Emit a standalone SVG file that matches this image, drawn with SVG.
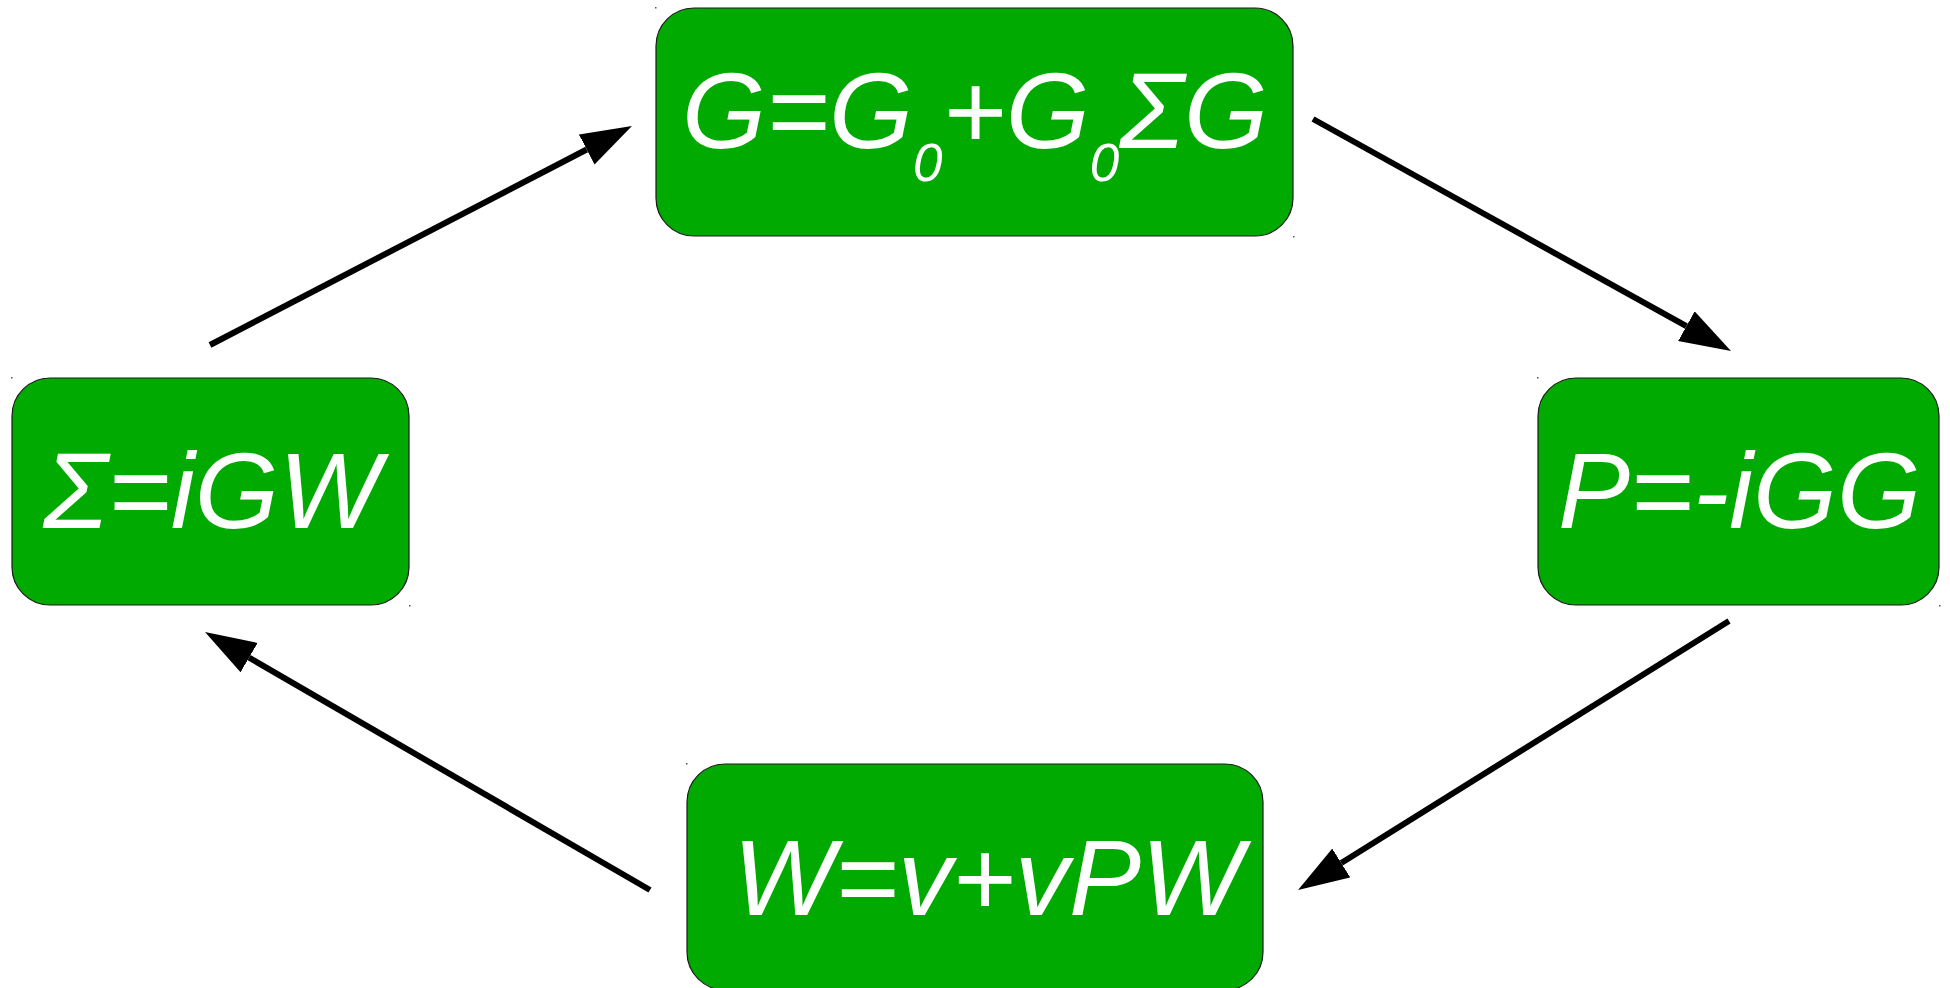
<svg xmlns="http://www.w3.org/2000/svg" width="1950" height="988" viewBox="0 0 1950 988">
<style>
.box{fill:#00aa00;stroke:#1a1a1a;stroke-width:1.2}
.lbl{font-family:"Liberation Sans",Arial,sans-serif;font-style:italic;font-size:108px;fill:#ffffff}
.sub{font-size:53px}
.conn{stroke:#000;stroke-width:6;fill:none}
.dot{fill:#555}
</style>
<defs>
<marker id="ah" markerUnits="userSpaceOnUse" markerWidth="60" markerHeight="40" refX="0" refY="17" orient="auto" viewBox="0 0 60 40">
<path d="M0,0 L51,17 L0,34 Z" fill="#000"/>
</marker>
</defs>
<rect width="1950" height="988" fill="#ffffff"/>
<g id="connectors">
<line class="conn" x1="210" y1="345" x2="586.7" y2="149.5" marker-end="url(#ah)"/>
<line class="conn" x1="1313" y1="119" x2="1686.4" y2="326.2" marker-end="url(#ah)"/>
<line class="conn" x1="1729" y1="621" x2="1341.3" y2="863" marker-end="url(#ah)"/>
<line class="conn" x1="650" y1="890" x2="249.1" y2="657.6" marker-end="url(#ah)"/>
</g>
<g id="node-G">
<rect class="box" x="656" y="8" width="637" height="228" rx="38" ry="38"/>
<rect class="dot" x="655" y="7" width="1.5" height="1.5"/>
<rect class="dot" x="1293" y="236" width="1.5" height="1.5"/>
<text class="lbl" x="682" y="148">G=G<tspan class="sub" dy="33">0</tspan><tspan dy="-33">+G</tspan><tspan class="sub" dy="33">0</tspan><tspan dy="-33">ΣG</tspan></text>
</g>
<g id="node-Sigma">
<rect class="box" x="12" y="378" width="397" height="227" rx="38" ry="38"/>
<rect class="dot" x="11" y="377" width="1.5" height="1.5"/>
<rect class="dot" x="409" y="605" width="1.5" height="1.5"/>
<text class="lbl" x="43" y="528">Σ=iGW</text>
</g>
<g id="node-P">
<rect class="box" x="1538" y="378" width="401" height="227" rx="38" ry="38"/>
<rect class="dot" x="1537" y="377" width="1.5" height="1.5"/>
<rect class="dot" x="1939" y="605" width="1.5" height="1.5"/>
<text class="lbl" x="1558" y="528">P=-iGG</text>
</g>
<g id="node-W">
<rect class="box" x="687" y="764" width="576" height="226" rx="38" ry="38"/>
<rect class="dot" x="686" y="763" width="1.5" height="1.5"/>
<text class="lbl" x="733" y="915">W=v+vPW</text>
</g>
</svg>
